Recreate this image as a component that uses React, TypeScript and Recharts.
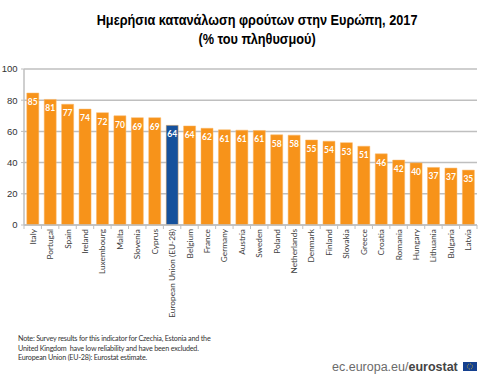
import { BarChart, Bar, XAxis, YAxis, CartesianGrid, Cell, LabelList } from 'recharts';

const countries = [
  'Italy', 'Portugal', 'Spain', 'Ireland', 'Luxembourg', 'Malta', 'Slovenia', 'Cyprus',
  'European Union (EU-28)', 'Belgium', 'France', 'Germany', 'Austria', 'Sweden', 'Poland',
  'Netherlands', 'Denmark', 'Finland', 'Slovakia', 'Greece', 'Croatia', 'Romania', 'Hungary',
  'Lithuania', 'Bulgaria', 'Latvia',
];
const shares = [
  84.6, 80.5, 77.4, 74.3, 72, 70, 68.8, 68.8, 63.9, 63.5, 62, 61, 60.8, 60.6, 57.8, 57.6,
  54.5, 53.7, 52.8, 50.5, 45.6, 41.6, 39.8, 36.9, 36.5, 35.2,
];
const yTicks = [0, 20, 40, 60, 80, 100];
const highlighted = 'European Union (EU-28)';
const titleLines = ['Ημερήσια κατανάλωση φρούτων στην Ευρώπη, 2017', '(% του πληθυσμού)'];
const noteLines = [
  'Note: Survey results for this indicator for Czechia, Estonia and the',
  'United Kingdom  have low reliability and have been excluded.',
  'European Union (EU-28): Eurostat estimate.',
];

const data = countries.map((country, i) => ({ country, share: shares[i] }));

const calibriLike = 'Lato, "Open Sans", sans-serif';
const arial = '"Liberation Sans", Arial, sans-serif';
const step = 453 / countries.length;

function CountryTick({ x, y, payload, index }: any) {
  const left = x - step / 2;
  return (
    <g>
      <line x1={left} x2={left} y1={y - 8} y2={y - 4} stroke="#bfbfbf" />
      {index === countries.length - 1 && (
        <line x1={left + step} x2={left + step} y1={y - 8} y2={y - 4} stroke="#bfbfbf" />
      )}
      <text
        x={x + 3}
        y={y - 4}
        transform={`rotate(-90 ${x + 3} ${y - 4})`}
        textAnchor="end"
        fontSize={8.3}
        fontFamily={calibriLike}
        fill="#404040"
      >
        {payload.value}
      </text>
    </g>
  );
}

export default function App() {
  return (
    <div style={{ position: 'absolute', left: 0, top: 0, width: 485, height: 380, background: '#fff', overflow: 'hidden' }}>
      <div
        style={{
          position: 'absolute',
          left: 0,
          top: 10,
          width: 627,
          textAlign: 'center',
          fontFamily: arial,
          fontWeight: 700,
          fontSize: 15.5,
          lineHeight: '19px',
          color: '#000',
          transform: 'scaleX(0.82)',
          transformOrigin: '0 0',
        }}
      >
        {titleLines.map((line) => (
          <div key={line}>{line}</div>
        ))}
      </div>

      <BarChart
        width={485}
        height={380}
        data={data}
        margin={{ top: 69, right: 8, bottom: 95, left: 0 }}
        barCategoryGap="16%"
        style={{ position: 'absolute', left: 0, top: 0 }}
      >
        <CartesianGrid vertical={false} stroke="#bfbfbf" strokeWidth={1.5} />
        <XAxis
          dataKey="country"
          interval={0}
          height={60}
          tick={<CountryTick />}
          tickLine={false}
          axisLine={{ stroke: '#bfbfbf', strokeWidth: 1.5 }}
        />
        <YAxis
          width={24}
          domain={[0, 100]}
          ticks={yTicks}
          tick={{ fontSize: 9.5, fill: '#333', fontFamily: arial }}
          tickSize={3}
          tickMargin={3.5}
          tickLine={{ stroke: '#bfbfbf' }}
          axisLine={{ stroke: '#bfbfbf', strokeWidth: 1.5 }}
        />
        <Bar dataKey="share" isAnimationActive={false} stroke="#fbb766" strokeWidth={0.5}>
          {data.map((entry) => (
            <Cell key={entry.country} fill={entry.country === highlighted ? '#15519c' : '#f7931a'} />
          ))}
          <LabelList
            dataKey="share"
            position="insideTop"
            offset={6}
            formatter={(v: number) => Math.round(v)}
            style={{ fill: '#fff', fontSize: 8.5, fontWeight: 700, fontFamily: calibriLike }}
          />
        </Bar>
      </BarChart>

      <div
        style={{
          position: 'absolute',
          left: 18,
          top: 334,
          fontFamily: calibriLike,
          fontSize: 7.2,
          letterSpacing: -0.2,
          lineHeight: '9.5px',
          color: '#333',
          whiteSpace: 'pre',
        }}
      >
        {noteLines.map((line) => (
          <div key={line}>{line}</div>
        ))}
      </div>

      <div
        style={{
          position: 'absolute',
          left: 332,
          top: 359,
          fontFamily: arial,
          fontSize: 12.5,
          lineHeight: '16px',
          color: '#6b6b6b',
          whiteSpace: 'pre',
        }}
      >
        ec.europa.eu/<span style={{ fontWeight: 700, color: '#444' }}>eurostat</span>
      </div>
      <svg style={{ position: 'absolute', left: 463, top: 362 }} width={14} height={9}>
        <rect width={14} height={9} fill="#15408f" />
        <circle cx={7} cy={4.5} r={2.6} fill="none" stroke="#e8c020" strokeWidth={0.8} strokeDasharray="1 1" />
      </svg>
    </div>
  );
}
